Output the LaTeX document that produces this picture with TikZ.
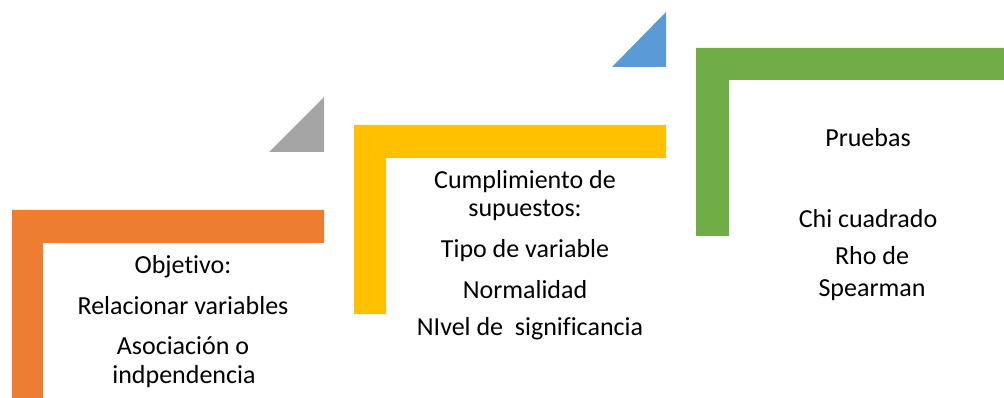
\documentclass[tikz,border=0pt]{standalone}
\usepackage{fontspec}
\setmainfont[Ligatures={NoCommon}]{Carlito}
\definecolor{naranja}{HTML}{ED7D31}
\definecolor{gris}{HTML}{A5A5A5}
\definecolor{amarillo}{HTML}{FFC000}
\definecolor{azul}{HTML}{5B9BD5}
\definecolor{verde}{HTML}{70AD47}

\tikzstyle{every node}=[anchor=base, align=center, inner sep=0pt, font=\fontsize{26}{30}\selectfont]
\tikzstyle{escalon}=[draw=none]

\begin{document}
\begin{tikzpicture}[x=1pt, y=-1pt]
  \useasboundingbox (0,0) rectangle (1004,398);
  % paso 1
  \fill[escalon, naranja] (12,210) -- (324,210) -- (324,243) -- (43,243) -- (43,398) -- (12,398) -- cycle;
  \fill[escalon, gris] (324,97) -- (324,152) -- (269,152) -- cycle;
  % paso 2
  \fill[escalon, amarillo] (354,125) -- (666,125) -- (666,158) -- (386,158) -- (386,314) -- (354,314) -- cycle;
  \fill[escalon, azul] (666,12) -- (666,67) -- (612,67) -- cycle;
  % paso 3
  \fill[escalon, verde] (696,48) -- (1004,48) -- (1004,80) -- (729,80) -- (729,236) -- (696,236) -- cycle;

  \node (objetivo) at (183,273) {Objetivo:};
  \node (relacionar) at (183,314) {Relacionar variables};
  \node (asociacion) at (183,354) {Asociación o};
  \node (independencia) at (184,383) {indpendencia};

  \node (cumplimiento) at (525,189) {Cumplimiento de};
  \node (supuestos) at (525,217) {supuestos:};
  \node (tipo) at (525,258) {Tipo de variable};
  \node (normalidad) at (525,298) {Normalidad};
  \node (nivel) at (530,335) {NIvel de~ significancia};

  \node (pruebas) at (868,147) {Pruebas};
  \node (chi) at (868,228) {Chi cuadrado};
  \node (rho) at (872,264) {Rho de};
  \node (spearman) at (872,296) {Spearman};
\end{tikzpicture}
\end{document}
